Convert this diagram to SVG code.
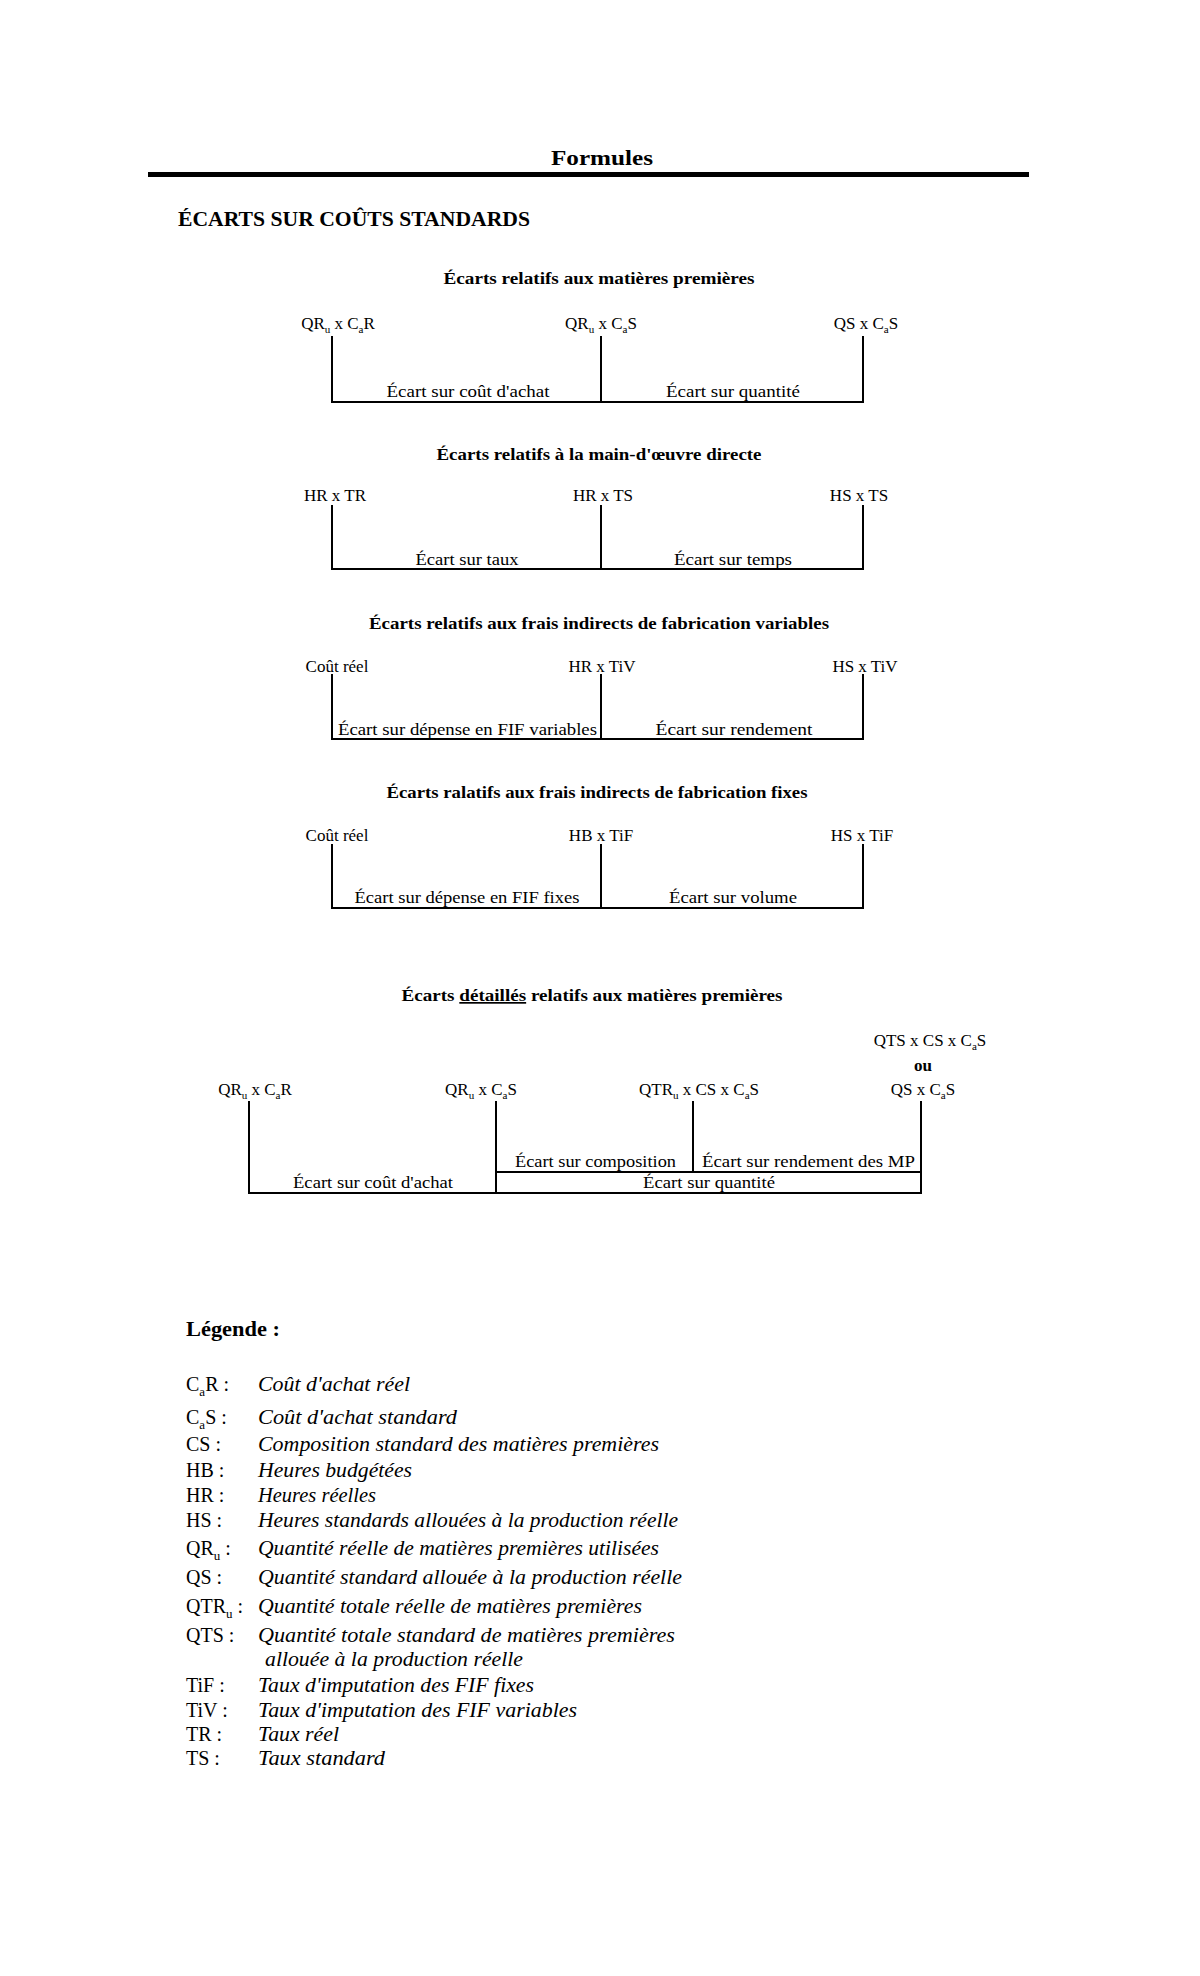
<svg xmlns="http://www.w3.org/2000/svg" width="1200" height="1976" viewBox="0 0 1200 1976">
<style>
.t{font-family:"Liberation Serif","DejaVu Serif",serif;fill:#000}
.b{font-weight:bold}
.lab{font-size:17px}
.h{font-size:17px;font-weight:bold}
.leg{font-size:20px}
.i{font-style:italic}
.sub{font-size:11px}
.lsub{font-size:13px}
.ln{stroke:#000;stroke-width:2;fill:none}
</style>
<rect width="1200" height="1976" fill="#fff"/>
<g id="title">
<text class="t b" x="602" y="165" font-size="21" text-anchor="middle" textLength="102" lengthAdjust="spacingAndGlyphs">Formules</text>
<rect x="148" y="172" width="881" height="5" fill="#000"/>
<text class="t b" x="178" y="226" font-size="22" textLength="352" lengthAdjust="spacingAndGlyphs">ÉCARTS SUR COÛTS STANDARDS</text>
</g>

<g id="connectors">
<!-- section 1 -->
<line class="ln" x1="332" y1="336" x2="332" y2="403"/>
<line class="ln" x1="601" y1="336" x2="601" y2="403"/>
<line class="ln" x1="863" y1="336" x2="863" y2="403"/>
<line class="ln" x1="331" y1="402" x2="864" y2="402"/>
<!-- section 2 -->
<line class="ln" x1="332" y1="505" x2="332" y2="570"/>
<line class="ln" x1="601" y1="505" x2="601" y2="570"/>
<line class="ln" x1="863" y1="505" x2="863" y2="570"/>
<line class="ln" x1="331" y1="569" x2="864" y2="569"/>
<!-- section 3 -->
<line class="ln" x1="332" y1="674" x2="332" y2="740"/>
<line class="ln" x1="601" y1="674" x2="601" y2="740"/>
<line class="ln" x1="863" y1="674" x2="863" y2="740"/>
<line class="ln" x1="331" y1="739" x2="864" y2="739"/>
<!-- section 4 -->
<line class="ln" x1="332" y1="844" x2="332" y2="909"/>
<line class="ln" x1="601" y1="844" x2="601" y2="909"/>
<line class="ln" x1="863" y1="844" x2="863" y2="909"/>
<line class="ln" x1="331" y1="908" x2="864" y2="908"/>
<!-- section 5 -->
<line class="ln" x1="249" y1="1101" x2="249" y2="1194"/>
<line class="ln" x1="496" y1="1101" x2="496" y2="1194"/>
<line class="ln" x1="693" y1="1101" x2="693" y2="1172"/>
<line class="ln" x1="921" y1="1101" x2="921" y2="1194"/>
<line class="ln" x1="496" y1="1172" x2="922" y2="1172"/>
<line class="ln" x1="248" y1="1193" x2="922" y2="1193"/>
</g>

<g id="section-mp">
<text class="t h" x="599" y="284" text-anchor="middle" textLength="311" lengthAdjust="spacingAndGlyphs">Écarts relatifs aux matières premières</text>
<g id="mp-qru-car"><text class="t lab" x="338" y="329" text-anchor="middle">QR<tspan class="sub" dy="4">u</tspan><tspan dy="-4"> x C</tspan><tspan class="sub" dy="4">a</tspan><tspan dy="-4">R</tspan></text></g>
<g id="mp-qru-cas"><text class="t lab" x="601" y="329" text-anchor="middle">QR<tspan class="sub" dy="4">u</tspan><tspan dy="-4"> x C</tspan><tspan class="sub" dy="4">a</tspan><tspan dy="-4">S</tspan></text></g>
<g id="mp-qs-cas"><text class="t lab" x="866" y="329" text-anchor="middle">QS x C<tspan class="sub" dy="4">a</tspan><tspan dy="-4">S</tspan></text></g>
<g id="mp-ecart-achat"><text class="t lab" x="468" y="397" text-anchor="middle" textLength="163" lengthAdjust="spacingAndGlyphs">Écart sur coût d'achat</text></g>
<g id="mp-ecart-quantite"><text class="t lab" x="733" y="397" text-anchor="middle" textLength="134" lengthAdjust="spacingAndGlyphs">Écart sur quantité</text></g>
</g>

<g id="section-mod">
<text class="t h" x="599" y="460" text-anchor="middle" textLength="325" lengthAdjust="spacingAndGlyphs">Écarts relatifs à la main-d'œuvre directe</text>
<g id="mod-hr-tr"><text class="t lab" x="335" y="501" text-anchor="middle">HR x TR</text></g>
<g id="mod-hr-ts"><text class="t lab" x="603" y="501" text-anchor="middle">HR x TS</text></g>
<g id="mod-hs-ts"><text class="t lab" x="859" y="501" text-anchor="middle">HS x TS</text></g>
<g id="mod-ecart-taux"><text class="t lab" x="467" y="565" text-anchor="middle" textLength="103" lengthAdjust="spacingAndGlyphs">Écart sur taux</text></g>
<g id="mod-ecart-temps"><text class="t lab" x="733" y="565" text-anchor="middle" textLength="118" lengthAdjust="spacingAndGlyphs">Écart sur temps</text></g>
</g>

<g id="section-fifv">
<text class="t h" x="599" y="629" text-anchor="middle" textLength="460" lengthAdjust="spacingAndGlyphs">Écarts relatifs aux frais indirects de fabrication variables</text>
<g id="fifv-cout-reel"><text class="t lab" x="337" y="672" text-anchor="middle">Coût réel</text></g>
<g id="fifv-hr-tiv"><text class="t lab" x="602" y="672" text-anchor="middle">HR x TiV</text></g>
<g id="fifv-hs-tiv"><text class="t lab" x="865" y="672" text-anchor="middle">HS x TiV</text></g>
<g id="fifv-ecart-depense"><text class="t lab" x="338" y="735" textLength="259" lengthAdjust="spacingAndGlyphs">Écart sur dépense en FIF variables</text></g>
<g id="fifv-ecart-rendement"><text class="t lab" x="734" y="735" text-anchor="middle" textLength="157" lengthAdjust="spacingAndGlyphs">Écart sur rendement</text></g>
</g>

<g id="section-fiff">
<text class="t h" x="597" y="798" text-anchor="middle" textLength="421" lengthAdjust="spacingAndGlyphs">Écarts ralatifs aux frais indirects de fabrication fixes</text>
<g id="fiff-cout-reel"><text class="t lab" x="337" y="841" text-anchor="middle">Coût réel</text></g>
<g id="fiff-hb-tif"><text class="t lab" x="601" y="841" text-anchor="middle">HB x TiF</text></g>
<g id="fiff-hs-tif"><text class="t lab" x="862" y="841" text-anchor="middle">HS x TiF</text></g>
<g id="fiff-ecart-depense"><text class="t lab" x="467" y="903" text-anchor="middle" textLength="225" lengthAdjust="spacingAndGlyphs">Écart sur dépense en FIF fixes</text></g>
<g id="fiff-ecart-volume"><text class="t lab" x="733" y="903" text-anchor="middle" textLength="128" lengthAdjust="spacingAndGlyphs">Écart sur volume</text></g>
</g>

<g id="section-mp-detail">
<text class="t h" x="592" y="1001" text-anchor="middle" textLength="381" lengthAdjust="spacingAndGlyphs">Écarts <tspan text-decoration="underline">détaillés</tspan> relatifs aux matières premières</text>
<g id="det-qts"><text class="t lab" x="930" y="1046" text-anchor="middle">QTS x CS x C<tspan class="sub" dy="4">a</tspan><tspan dy="-4">S</tspan></text>
<text class="t lab b" x="923" y="1071" text-anchor="middle">ou</text>
<text class="t lab" x="923" y="1095" text-anchor="middle">QS x C<tspan class="sub" dy="4">a</tspan><tspan dy="-4">S</tspan></text></g>
<g id="det-qru-car"><text class="t lab" x="255" y="1095" text-anchor="middle">QR<tspan class="sub" dy="4">u</tspan><tspan dy="-4"> x C</tspan><tspan class="sub" dy="4">a</tspan><tspan dy="-4">R</tspan></text></g>
<g id="det-qru-cas"><text class="t lab" x="481" y="1095" text-anchor="middle">QR<tspan class="sub" dy="4">u</tspan><tspan dy="-4"> x C</tspan><tspan class="sub" dy="4">a</tspan><tspan dy="-4">S</tspan></text></g>
<g id="det-qtru"><text class="t lab" x="699" y="1095" text-anchor="middle">QTR<tspan class="sub" dy="4">u</tspan><tspan dy="-4"> x CS x C</tspan><tspan class="sub" dy="4">a</tspan><tspan dy="-4">S</tspan></text></g>
<g id="det-ecart-composition"><text class="t lab" x="515" y="1167" textLength="161" lengthAdjust="spacingAndGlyphs">Écart sur composition</text></g>
<g id="det-ecart-rendement"><text class="t lab" x="702" y="1167" textLength="213" lengthAdjust="spacingAndGlyphs">Écart sur rendement des MP</text></g>
<g id="det-ecart-achat"><text class="t lab" x="293" y="1188" textLength="160" lengthAdjust="spacingAndGlyphs">Écart sur coût d'achat</text></g>
<g id="det-ecart-quantite"><text class="t lab" x="643" y="1188" textLength="132" lengthAdjust="spacingAndGlyphs">Écart sur quantité</text></g>
</g>

<g id="legend">
<text class="t b" x="186" y="1336" font-size="21" textLength="94" lengthAdjust="spacingAndGlyphs">Légende :</text>
<g class="t leg">
<text x="186" y="1391">C<tspan class="lsub" dy="5">a</tspan><tspan dy="-5">R :</tspan></text>
<text class="i" x="258" y="1391" textLength="152" lengthAdjust="spacingAndGlyphs">Coût d'achat réel</text>
<text x="186" y="1424">C<tspan class="lsub" dy="5">a</tspan><tspan dy="-5">S :</tspan></text>
<text class="i" x="258" y="1424" textLength="199" lengthAdjust="spacingAndGlyphs">Coût d'achat standard</text>
<text x="186" y="1451">CS :</text>
<text class="i" x="258" y="1451" textLength="401" lengthAdjust="spacingAndGlyphs">Composition standard des matières premières</text>
<text x="186" y="1477">HB :</text>
<text class="i" x="258" y="1477" textLength="154" lengthAdjust="spacingAndGlyphs">Heures budgétées</text>
<text x="186" y="1502">HR :</text>
<text class="i" x="258" y="1502" textLength="118" lengthAdjust="spacingAndGlyphs">Heures réelles</text>
<text x="186" y="1527">HS :</text>
<text class="i" x="258" y="1527" textLength="420" lengthAdjust="spacingAndGlyphs">Heures standards allouées à la production réelle</text>
<text x="186" y="1555">QR<tspan class="lsub" dy="5">u</tspan><tspan dy="-5"> :</tspan></text>
<text class="i" x="258" y="1555" textLength="401" lengthAdjust="spacingAndGlyphs">Quantité réelle de matières premières utilisées</text>
<text x="186" y="1584">QS :</text>
<text class="i" x="258" y="1584" textLength="424" lengthAdjust="spacingAndGlyphs">Quantité standard allouée à la production réelle</text>
<text x="186" y="1613">QTR<tspan class="lsub" dy="5">u</tspan><tspan dy="-5"> :</tspan></text>
<text class="i" x="258" y="1613" textLength="384" lengthAdjust="spacingAndGlyphs">Quantité totale réelle de matières premières</text>
<text x="186" y="1642">QTS :</text>
<text class="i" x="258" y="1642" textLength="417" lengthAdjust="spacingAndGlyphs">Quantité totale standard de matières premières</text>
<text class="i" x="265" y="1666" textLength="258" lengthAdjust="spacingAndGlyphs">allouée à la production réelle</text>
<text x="186" y="1692">TiF :</text>
<text class="i" x="258" y="1692" textLength="276" lengthAdjust="spacingAndGlyphs">Taux d'imputation des FIF fixes</text>
<text x="186" y="1717">TiV :</text>
<text class="i" x="258" y="1717" textLength="319" lengthAdjust="spacingAndGlyphs">Taux d'imputation des FIF variables</text>
<text x="186" y="1741">TR :</text>
<text class="i" x="258" y="1741" textLength="81" lengthAdjust="spacingAndGlyphs">Taux réel</text>
<text x="186" y="1765">TS :</text>
<text class="i" x="258" y="1765" textLength="127" lengthAdjust="spacingAndGlyphs">Taux standard</text>
</g>
</g>
</svg>
